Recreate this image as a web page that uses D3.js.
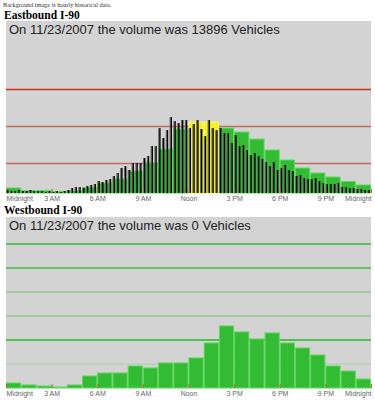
<!DOCTYPE html>
<html>
<head>
<meta charset="utf-8">
<script src="https://cdn.jsdelivr.net/npm/d3@7"></script>
<style>
  body { margin: 0; background: #fff; }
</style>
</head>
<body>
<main></main>
<script>
// hourly historical volume (background image), vehicles per hour
const eastHourly = [135, 68, 68, 41, 54, 149, 270, 378, 594, 810, 1188, 1728,
                    1917, 1917, 1755, 1647, 1458, 1161, 891, 675, 540, 432, 311, 216];
// 15 minute readings for the day
const eastQuarter = [
  81, 54, 54, 81,   54, 54, 81, 54,   54, 54, 27, 54,   27, 54, 27, 54,
  81, 135, 162, 162, 135, 189, 216, 243, 324, 297, 351, 378, 459, 540, 675, 729,
  621, 810, 810, 810, 945, 999, 1269, 1269, 1755, 1485, 1701, 2052, 1944, 1890, 1971, 1971,
  1755, 1863, 1971, 1728, 1539, 1971, 1755, 1701, 1755, 1620, 1620, 1350, 1566, 1269, 1296, 1161,
  1026, 1080, 999, 918, 837, 729, 837, 621, 675, 756, 621, 594, 459, 486, 405, 378,
  378, 405, 324, 270, 243, 243, 243, 270, 162, 162, 135, 135, 108, 108, 81, 81];
const westHourly = [104, 63, 42, 21, 63, 250, 312, 312, 458, 417, 521, 521,
                    625, 937, 1292, 1167, 1021, 1146, 937, 833, 687, 458, 354, 187];
const highlightHours = [12, 13];
const eastLines = [800, 1800, 2800];
const westLines = [500, 1000, 1500, 2000, 2500, 3000];
const westLineColors = ["#b4d2b4", "#22bb22", "#8fcc8f", "#8fcc8f", "#44bb44", "#33bb33"];
const eastLineColors = ["#c46a5e", "#c86a5a", "#cc3322"];
const tickHours = [0, 3, 6, 9, 12, 15, 18, 21, 24];
const tickLabels = ["Midnight", "3 AM", "6 AM", "9 AM", "Noon", "3 PM", "6 PM", "9 PM", "Midnight"];

const W = 375, H = 400;
const svg = d3.select("main").append("svg")
  .attr("width", W).attr("height", H)
  .style("display", "block");

const x = d3.scaleLinear().domain([0, 24]).range([6, 371]);

svg.append("text")
  .attr("x", 3).attr("y", 7)
  .style("font-family", "Liberation Serif").style("font-size", "6.2px")
  .attr("fill", "#333")
  .text("Background image is hourly historical data.");

function panel(top, base, maxV, title, titleY, msg) {
  const y = d3.scaleLinear().domain([0, maxV]).range([base, top]);
  svg.append("text")
    .attr("x", 4).attr("y", titleY)
    .style("font-family", "Liberation Serif").style("font-weight", "bold").style("font-size", "11.5px")
    .text(title);
  svg.append("rect")
    .attr("x", x(0)).attr("y", top)
    .attr("width", x(24) - x(0)).attr("height", base - top)
    .attr("fill", "#d3d3d3");
  svg.append("text")
    .attr("x", 9).attr("y", top + 13)
    .style("font-family", "Liberation Sans").style("font-size", "13px")
    .attr("fill", "#222")
    .text(msg);
  return y;
}

function axis(base) {
  const g = svg.append("g")
    .attr("transform", "translate(0," + base + ")")
    .call(d3.axisBottom(x).tickValues(tickHours)
      .tickFormat((d, i) => tickLabels[i])
      .tickSize(-4).tickPadding(3));
  g.select(".domain").remove();
  g.selectAll(".tick line").attr("stroke", "#cc5544").attr("stroke-width", 1);
  g.selectAll(".tick text")
    .style("font-family", "Liberation Sans").style("font-size", "7px")
    .attr("fill", "#666")
    .attr("text-anchor", (d, i) => i == 0 ? "start" : (i == tickHours.length - 1 ? "end" : "middle"));
}

// Eastbound
const yE = panel(21, 193, 4650, "Eastbound I-90", 19, "On 11/23/2007 the volume was 13896 Vehicles");
svg.selectAll(".eline").data(eastLines).enter().append("line")
  .attr("x1", x(0)).attr("x2", x(24))
  .attr("y1", d => yE(d)).attr("y2", d => yE(d))
  .attr("stroke", (d, i) => eastLineColors[i]).attr("stroke-width", 1.5);
svg.selectAll(".ebar").data(eastHourly).enter().append("rect")
  .attr("x", (d, i) => x(i) + 0.5)
  .attr("width", (d, i) => x(i + 1) - x(i) - 1)
  .attr("y", d => yE(d))
  .attr("height", d => 193 - yE(d))
  .attr("fill", (d, i) => highlightHours.includes(i) ? "#f4f022" : "#33bb33")
  .attr("stroke", (d, i) => highlightHours.includes(i) ? "#fafa66" : "#5cd85c")
  .attr("stroke-width", 1);
svg.selectAll(".qshadow").data(eastQuarter).enter().append("rect")
  .attr("x", (d, i) => x(i / 4 + 0.125) - 1.8)
  .attr("width", 1)
  .attr("y", d => yE(d))
  .attr("height", d => 193 - yE(d))
  .attr("fill", "#666");
svg.selectAll(".qbar").data(eastQuarter).enter().append("rect")
  .attr("x", (d, i) => x(i / 4 + 0.125) - 0.8)
  .attr("width", 1.4)
  .attr("y", d => yE(d))
  .attr("height", d => 193 - yE(d))
  .attr("fill", "#000");
axis(193);

// Westbound
const yW = panel(217, 388, 3560, "Westbound I-90", 214, "On 11/23/2007 the volume was 0 Vehicles");
svg.selectAll(".wline").data(westLines).enter().append("line")
  .attr("x1", x(0)).attr("x2", x(24))
  .attr("y1", d => yW(d)).attr("y2", d => yW(d))
  .attr("stroke", (d, i) => westLineColors[i]).attr("stroke-width", 1.5);
svg.selectAll(".wbar").data(westHourly).enter().append("rect")
  .attr("x", (d, i) => x(i) + 0.5)
  .attr("width", (d, i) => x(i + 1) - x(i) - 1)
  .attr("y", d => yW(d))
  .attr("height", d => 388 - yW(d))
  .attr("fill", "#33bb33")
  .attr("stroke", "#5cd85c")
  .attr("stroke-width", 1);
axis(388);
</script>
</body>
</html>
